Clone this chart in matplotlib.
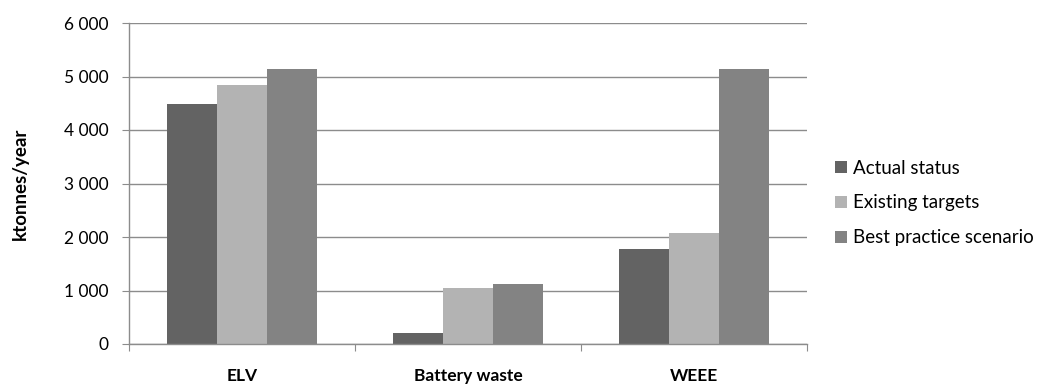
import matplotlib
matplotlib.use("Agg")
import matplotlib.pyplot as plt
import numpy as np
from matplotlib.ticker import FuncFormatter
from matplotlib.transforms import blended_transform_factory

plt.rcParams['font.family'] = ['Lato', 'DejaVu Sans']

categories = ["ELV", "Battery waste", "WEEE"]
series_names = ["Actual status", "Existing targets", "Best practice scenario"]
actual_status = [4480, 200, 1770]
existing_targets = [4840, 1050, 2080]
best_practice = [5135, 1130, 5135]
colors = ["#636363", "#b3b3b3", "#838383"]
yticks = [0, 1000, 2000, 3000, 4000, 5000, 6000]

fig = plt.figure(figsize=(10.4, 3.85), dpi=100)
ax = fig.add_axes([129/1040, 1 - 344/385, (807-129)/1040, (344-23)/385])

x = np.arange(len(categories))
w = 0.222
for i, (vals, c, name) in enumerate(zip([actual_status, existing_targets, best_practice], colors, series_names)):
    ax.bar(x + (i - 1) * w, vals, width=w, color=c, label=name, zorder=2)

ax.set_xlim(-0.5, 2.5)
ax.set_ylim(0, 6000)
ax.set_yticks(yticks)
ax.yaxis.set_major_formatter(FuncFormatter(lambda v, p: f"{int(v):,}".replace(",", " ")))
ax.grid(axis='y', color='#8c8c8c', linewidth=1, zorder=0)
ax.set_axisbelow(True)
for s in ['top', 'right']:
    ax.spines[s].set_visible(False)
for s in ['left', 'bottom']:
    ax.spines[s].set_color('#8c8c8c')
    ax.spines[s].set_linewidth(1)

ax.set_xticks([-0.5, 0.5, 1.5, 2.5])
ax.set_xticklabels([])
ax.tick_params(axis='x', length=5, color='#8c8c8c', direction='out')
ax.tick_params(axis='y', length=5, color='#8c8c8c', labelsize=12.5, pad=10)
trans = blended_transform_factory(ax.transData, fig.transFigure)
for xi, cat in zip(x, categories):
    ax.text(xi, 1 - 368/385, cat, transform=trans,
            ha='center', va='top', fontsize=12.5, fontweight='bold')

ax.set_ylabel("ktonnes/year", fontsize=13.5, fontweight='bold', labelpad=25)

ax.legend(loc='center left', bbox_to_anchor=(835/1040, 1 - 203/385), bbox_transform=fig.transFigure,
          frameon=False, fontsize=13.5, handlelength=0.64, handleheight=0.64, handletextpad=0.32,
          labelspacing=0.95, borderpad=0, borderaxespad=0)

fig.savefig("out.png", dpi=100)
